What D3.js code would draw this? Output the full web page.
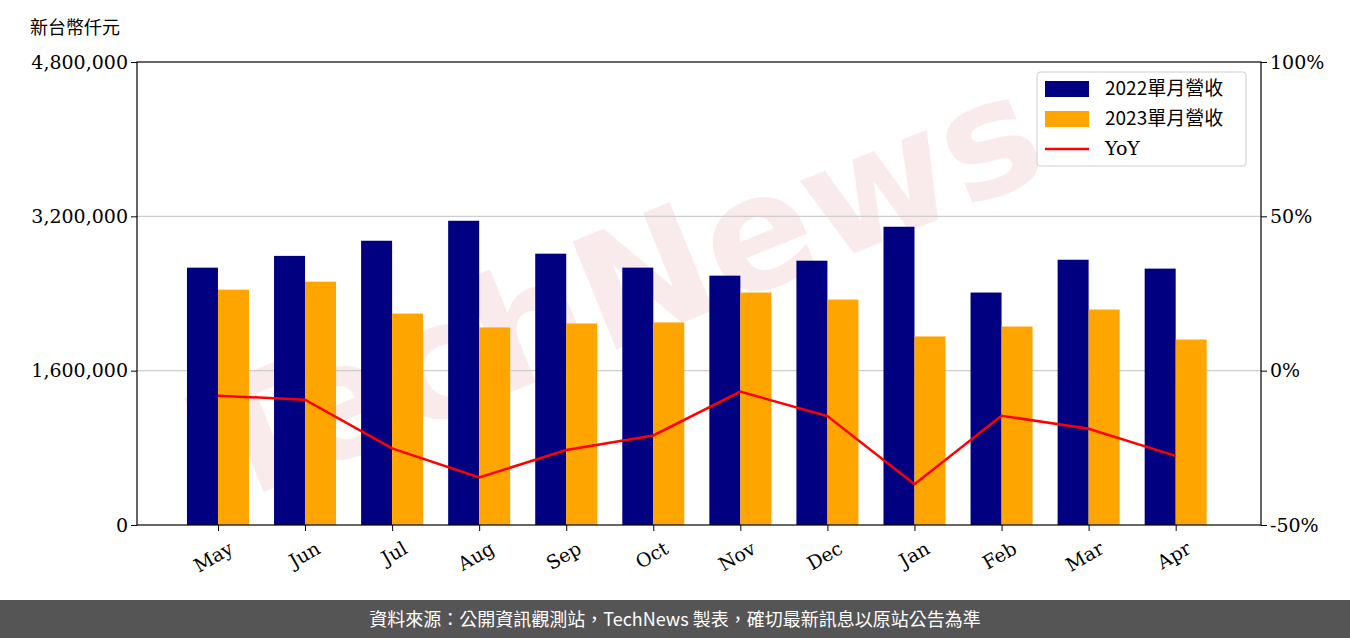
<!DOCTYPE html>
<html><head><meta charset="utf-8">
<script src="https://cdn.jsdelivr.net/npm/d3@7"></script>
<style>body{margin:0;background:#fff}svg{display:block}</style>
</head><body>
<svg id="c" width="1350" height="638"></svg>
<script>
const months = ["May","Jun","Jul","Aug","Sep","Oct","Nov","Dec","Jan","Feb","Mar","Apr"];
const rev2022 = [2668000,2790000,2947000,3154000,2813000,2668000,2585000,2740000,3092000,2410000,2750000,2658000];
const rev2023 = [2440000,2523000,2192000,2048000,2089000,2100000,2410000,2337000,1955000,2058000,2234000,1923000];
const yoy = [-8.1,-9.4,-25.2,-34.6,-25.7,-21.0,-6.8,-14.7,-36.8,-14.6,-18.8,-27.6];
const leftTicks = [0,1600000,3200000,4800000];
const rightTicks = [-50,0,50,100];

const svg = d3.select("#c");
const L = 137, R = 1261, T = 62, B = 525;
const serif = "'DejaVu Serif', serif";
const cjk = "'Noto Sans CJK TC', sans-serif";

const x = d3.scaleLinear().domain([-0.93, 11.98]).range([L, R]);
const y = d3.scaleLinear().domain([0, 4800000]).range([B, T]);
const y2 = d3.scaleLinear().domain([-50, 100]).range([B, T]);
const bw = 31;

// watermark
svg.append("text").attr("x", 640).attr("y", 340)
  .attr("transform", "rotate(-22,640,340)")
  .attr("text-anchor", "middle").attr("font-family", "'DejaVu Sans', sans-serif")
  .attr("font-weight", "bold").attr("font-size", 160)
  .attr("fill", "#e6a0a0").attr("opacity", 0.2).text("TechNews");

// grid
svg.selectAll(".g").data(leftTicks.slice(1, 3)).join("line")
  .attr("x1", L).attr("x2", R).attr("y1", d => y(d)).attr("y2", d => y(d))
  .attr("stroke", "#ccc").attr("stroke-width", 1.2);

svg.selectAll(".b1").data(rev2022).join("rect")
  .attr("x", (d, i) => x(i) - bw).attr("width", bw)
  .attr("y", d => y(d)).attr("height", d => B - y(d)).attr("fill", "#000080");
svg.selectAll(".b2").data(rev2023).join("rect")
  .attr("x", (d, i) => x(i)).attr("width", bw)
  .attr("y", d => y(d)).attr("height", d => B - y(d)).attr("fill", "#ffa500");

svg.append("path").datum(yoy)
  .attr("d", d3.line().x((d, i) => x(i)).y(d => y2(d)))
  .attr("fill", "none").attr("stroke", "red").attr("stroke-width", 2.5);

// axes
const ax = svg.append("g").attr("transform", `translate(${L},0)`)
  .call(d3.axisLeft(y).tickValues(leftTicks).tickFormat(d3.format(",")).tickSizeOuter(0));
const ax2 = svg.append("g").attr("transform", `translate(${R},0)`)
  .call(d3.axisRight(y2).tickValues(rightTicks).tickFormat(d => d + "%").tickSizeOuter(0));
const axb = svg.append("g").attr("transform", `translate(0,${B})`)
  .call(d3.axisBottom(x).tickValues(d3.range(12)).tickFormat(i => months[i]).tickSizeOuter(0));
[ax, ax2, axb].forEach(g => {
  g.select(".domain").remove();
  g.selectAll("text").attr("font-family", serif).attr("font-size", 19).attr("fill", "#000");
  g.selectAll("line").attr("stroke", "#000");
});
svg.append("rect").attr("x", L).attr("y", T).attr("width", R - L).attr("height", B - T)
  .attr("fill", "none").attr("stroke", "#000").attr("stroke-width", 1.2);
axb.selectAll("text").attr("text-anchor", "end")
  .attr("transform", "translate(5,8) rotate(-30)").attr("dy", "0.7em");

svg.append("text").attr("x", 30).attr("y", 34).attr("font-family", cjk)
  .attr("font-size", 18).text("新台幣仟元");

// legend
const lg = svg.append("g").attr("transform", "translate(1037,72)");
lg.append("rect").attr("width", 209).attr("height", 94).attr("rx", 3)
  .attr("fill", "#fff").attr("fill-opacity", 0.8).attr("stroke", "#ccc");
const items = [["2022單月營收", "#000080", "rect"], ["2023單月營收", "#ffa500", "rect"], ["YoY", "red", "line"]];
items.forEach((it, i) => {
  const cy = 17 + i * 30;
  if (it[2] === "rect") lg.append("rect").attr("x", 8).attr("y", cy - 8).attr("width", 44).attr("height", 16).attr("fill", it[1]);
  else lg.append("line").attr("x1", 8).attr("x2", 52).attr("y1", cy).attr("y2", cy).attr("stroke", it[1]).attr("stroke-width", 2.5);
  lg.append("text").attr("x", 68).attr("y", cy + 6).attr("font-family", i < 2 ? cjk : serif)
    .attr("font-size", 19).text(it[0]);
});

// footer
svg.append("rect").attr("x", 0).attr("y", 600).attr("width", 1350).attr("height", 38).attr("fill", "#555");
svg.append("text").attr("x", 675).attr("y", 626).attr("text-anchor", "middle")
  .attr("font-family", cjk).attr("font-size", 18).attr("fill", "#fff")
  .text("資料來源：公開資訊觀測站，TechNews 製表，確切最新訊息以原站公告為準");
</script>
</body></html>
